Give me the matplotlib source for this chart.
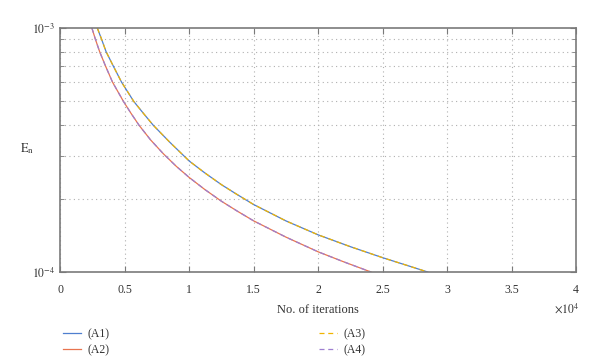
import matplotlib
matplotlib.use("Agg")
import matplotlib.pyplot as plt
from matplotlib.ticker import FixedLocator, NullFormatter

plt.rcParams['font.family'] = ['Liberation Serif', 'DejaVu Serif']
plt.rcParams['mathtext.fontset'] = 'stix'

# Data (iterations, error)
iter_A13 = [2870, 3200, 3550, 4100, 4750, 5700, 6400, 7200, 8500, 10000, 11200, 12500,
            13700, 15000, 17500, 20000, 22500, 25000, 27000, 28500]
err_A13 = [1.0e-3, 9.0e-4, 8.0e-4, 7.0e-4, 6.0e-4, 5.0e-4, 4.5e-4, 4.0e-4, 3.4e-4, 2.85e-4,
           2.55e-4, 2.28e-4, 2.08e-4, 1.89e-4, 1.62e-4, 1.42e-4, 1.27e-4, 1.145e-4, 1.06e-4, 1.0e-4]
iter_A24 = [2450, 2720, 3050, 3500, 4050, 4900, 5450, 6100, 7000, 8000, 9000, 10000, 11200,
            12500, 13700, 15000, 17500, 20000, 22000, 24100]
err_A24 = [1.0e-3, 9.0e-4, 8.0e-4, 7.0e-4, 6.0e-4, 5.0e-4, 4.5e-4, 4.0e-4, 3.48e-4, 3.05e-4,
           2.71e-4, 2.44e-4, 2.18e-4, 1.95e-4, 1.78e-4, 1.62e-4, 1.39e-4, 1.21e-4, 1.1e-4, 1.0e-4]

labels = ["(A1)", "(A2)", "(A3)", "(A4)"]
colors = ["#4f7fcf", "#e8744f", "#f0b400", "#9e7fd0"]
xtick_vals = [0, 5000, 10000, 15000, 20000, 25000, 30000, 35000, 40000]
xtick_labels = ["0", "0.5", "1", "1.5", "2", "2.5", "3", "3.5", "4"]

fig = plt.figure(figsize=(6.0, 3.59), dpi=100)
ax = fig.add_axes([0.1005, 0.2423, 0.8595, 0.6797])

h1, = ax.plot(iter_A13, err_A13, color=colors[0], lw=0.9, ls='-', label=labels[0])
h2, = ax.plot(iter_A24, err_A24, color=colors[1], lw=0.9, ls='-', label=labels[1])
h3, = ax.plot(iter_A13, err_A13, color=colors[2], lw=0.9, ls=(0, (4, 3)), label=labels[2])
h4, = ax.plot(iter_A24, err_A24, color=colors[3], lw=0.9, ls=(0, (4, 3)), label=labels[3])

ax.set_yscale('log')
ax.set_ylim(1e-4, 1e-3)
ax.set_xlim(0, 40000)
ax.set_xticks(xtick_vals)
ax.set_xticklabels(xtick_labels)
ax.yaxis.set_major_locator(FixedLocator([1e-4, 1e-3]))
ax.set_yticklabels([r"$10^{-4}$", r"$10^{-3}$"])
ax.yaxis.set_minor_locator(FixedLocator([k * 1e-4 for k in range(2, 10)]))
ax.yaxis.set_minor_formatter(NullFormatter())

ax.grid(True, which='major', axis='x', color='#b0b0b0', ls=(0, (1, 3)), lw=0.8)
ax.grid(True, which='minor', axis='y', color='#b0b0b0', ls=(0, (1, 3)), lw=0.8)
ax.grid(False, which='major', axis='y')

for s in ax.spines.values():
    s.set_color('#7a7a7a')
    s.set_linewidth(1.2)
ax.tick_params(which='both', direction='in', top=True, right=True, colors='#7a7a7a',
               labelcolor='#333333', labelsize=8.5)
ax.tick_params(which='major', length=4)
ax.tick_params(which='minor', length=3)
ax.tick_params(axis='x', pad=8.5)

ax.set_xlabel("No. of iterations", fontsize=9, color='#333333', labelpad=6)
fig.text(0.965, 0.139, r"$\times10^{4}$", fontsize=8.5, color='#333333', ha='right', va='center')
fig.text(0.045, 0.585, r"$\mathrm{E_n}$", fontsize=9, color='#333333', ha='center', va='center')

common = dict(loc='upper left', frameon=False, fontsize=8.5, handlelength=1.5,
              handletextpad=0.6, labelspacing=0.3, borderpad=0, borderaxespad=0)
leg1 = fig.legend([h1, h2], labels[:2], bbox_to_anchor=(0.105, 0.085), **common)
leg2 = fig.legend([h3, h4], labels[2:], bbox_to_anchor=(0.532, 0.085), **common)
for t in leg1.get_texts() + leg2.get_texts():
    t.set_color('#333333')

fig.savefig("out.png", dpi=100)
